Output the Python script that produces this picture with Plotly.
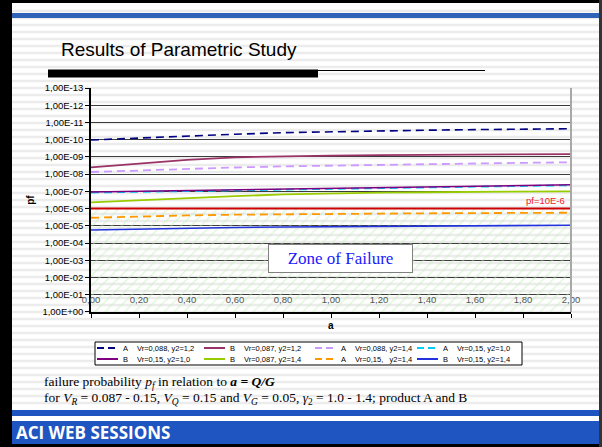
import plotly.graph_objects as go

# ---------------- data ----------------
a_values = [0.0, 0.2, 0.4, 0.6, 0.8, 1.0, 1.2, 1.4, 1.6, 1.8, 2.0]
x_tick_text = ["0,00", "0,20", "0,40", "0,60", "0,80", "1,00", "1,20", "1,40", "1,60", "1,80", "2,00"]
y_tick_vals = [1e-13, 1e-12, 1e-11, 1e-10, 1e-9, 1e-8, 1e-7, 1e-6, 1e-5, 1e-4, 1e-3, 1e-2, 1e-1, 1e0]
y_tick_text = ["1,00E-13", "1,00E-12", "1,00E-11", "1,00E-10", "1,00E-09", "1,00E-08", "1,00E-07",
               "1,00E-06", "1,00E-05", "1,00E-04", "1,00E-03", "1,00E-02", "1,00E-01", "1,00E+00"]

pf_A_088_12 = [1.04e-10, 7.8e-11, 5.9e-11, 4.8e-11, 3.9e-11, 3.4e-11, 3.05e-11, 2.8e-11, 2.6e-11, 2.4e-11, 2.3e-11]
pf_B_087_12 = [4.0e-9, 2.4e-9, 1.5e-9, 1.05e-9, 8.9e-10, 8.3e-10, 7.9e-10, 7.6e-10, 7.3e-10, 7.0e-10, 6.8e-10]
pf_A_088_14 = [7.5e-9, 6.0e-9, 4.9e-9, 4.1e-9, 3.55e-9, 3.15e-9, 2.8e-9, 2.6e-9, 2.4e-9, 2.2e-9, 2.05e-9]
pf_A_015_10 = [1.17e-7, 1.06e-7, 9.6e-8, 8.9e-8, 8.2e-8, 7.5e-8, 6.8e-8, 6.2e-8, 5.6e-8, 4.9e-8, 4.4e-8]
pf_B_015_10 = [1.09e-7, 9.9e-8, 9.0e-8, 8.3e-8, 7.7e-8, 7.0e-8, 6.4e-8, 5.8e-8, 5.2e-8, 4.6e-8, 4.1e-8]
pf_B_087_14 = [4.3e-7, 3.2e-7, 2.4e-7, 1.9e-7, 1.5e-7, 1.28e-7, 1.18e-7, 1.12e-7, 1.07e-7, 1.03e-7, 9.9e-8]
pf_A_015_14 = [3.4e-6, 2.8e-6, 2.5e-6, 2.25e-6, 2.1e-6, 2.0e-6, 1.95e-6, 1.87e-6, 1.82e-6, 1.77e-6, 1.73e-6]
pf_B_015_14 = [1.74e-5, 1.52e-5, 1.37e-5, 1.25e-5, 1.17e-5, 1.11e-5, 1.06e-5, 1.02e-5, 9.95e-6, 9.5e-6, 9.3e-6]

pf_limit = 1e-6
limit_label = "pf=10E-6"

# (product, description, values, colour, dash, width)
series = [
    ("A", "Vr=0,088, y2=1,2", pf_A_088_12, "#000080", "8px,5px", 1.6),
    ("B", "Vr=0,087, y2=1,2", pf_B_087_12, "#993366", "solid", 1.8),
    ("A", "Vr=0,088, y2=1,4", pf_A_088_14, "#cc99ff", "8px,5px", 1.8),
    ("A", "Vr=0,15, y2=1,0", pf_A_015_10, "#00ccff", "8px,5px", 1.8),
    ("B", "Vr=0,15, y2=1,0", pf_B_015_10, "#800080", "solid", 1.5),
    ("B", "Vr=0,087, y2=1,4", pf_B_087_14, "#99cc00", "solid", 1.8),
    ("A", "Vr=0,15,\u00a0\u00a0 y2=1,4", pf_A_015_14, "#ff9900", "8px,5px", 1.8),
    ("B", "Vr=0,15, y2=1,4", pf_B_015_14, "#2233dd", "solid", 1.6),
]

# ---------------- layout helpers ----------------
W, H = 602, 447
ML, MR, MT, MB = 91, 31, 88, 135
PW, PH = W - ML - MR, H - MT - MB


def px_x(px):
    return (px - ML) / PW


def px_y(py):
    return (H - MB - py) / PH


fig = go.Figure()

# zone of failure hatch (background)
fig.add_trace(go.Scatter(
    x=[a_values[0], a_values[-1], a_values[-1], a_values[0], a_values[0]],
    y=[pf_limit, pf_limit, y_tick_vals[-1], y_tick_vals[-1], pf_limit],
    mode="lines", line=dict(width=0), fill="toself",
    fillcolor="rgba(0,0,0,0)",
    fillpattern=dict(shape="/", fgcolor="#c4efb8", bgcolor="rgba(255,255,255,0)", size=7, solidity=0.22),
    hoverinfo="skip", showlegend=False))

for prod, desc, vals, color, dash, width in series:
    fig.add_trace(go.Scatter(x=a_values, y=vals, mode="lines", name=prod + " " + desc,
                             line=dict(color=color, dash=dash, width=width), showlegend=False))

fig.add_trace(go.Scatter(x=[a_values[0], a_values[-1]], y=[pf_limit, pf_limit], mode="lines",
                         line=dict(color="#cc0000", width=2), showlegend=False, hoverinfo="skip"))

shapes = []
# background stripes
for py in range(11, 410, 7):
    shapes.append(dict(type="line", xref="paper", yref="paper", x0=px_x(12), x1=px_x(600),
                       y0=px_y(py), y1=px_y(py), line=dict(color="#ececec", width=2.5), layer="below"))
# frame
shapes += [
    dict(type="rect", xref="paper", yref="paper", x0=px_x(0), x1=px_x(12), y0=px_y(447), y1=px_y(0),
         fillcolor="black", line=dict(width=0), layer="below"),
    dict(type="rect", xref="paper", yref="paper", x0=px_x(0), x1=px_x(602), y0=px_y(3), y1=px_y(0),
         fillcolor="black", line=dict(width=0), layer="below"),
    dict(type="rect", xref="paper", yref="paper", x0=px_x(0), x1=px_x(602), y0=px_y(447), y1=px_y(444),
         fillcolor="black", line=dict(width=0), layer="below"),
    dict(type="rect", xref="paper", yref="paper", x0=px_x(599), x1=px_x(602), y0=px_y(447), y1=px_y(0),
         fillcolor="#333333", line=dict(width=0), layer="below"),
    dict(type="rect", xref="paper", yref="paper", x0=px_x(12), x1=px_x(599), y0=px_y(18), y1=px_y(13),
         fillcolor="#2f63b8", line=dict(width=0), layer="below"),
    dict(type="rect", xref="paper", yref="paper", x0=px_x(12), x1=px_x(599), y0=px_y(416), y1=px_y(410),
         fillcolor="#1f55c0", line=dict(width=0), layer="below"),
    dict(type="rect", xref="paper", yref="paper", x0=px_x(12), x1=px_x(599), y0=px_y(444), y1=px_y(421),
         fillcolor="#1f55c0", line=dict(width=0), layer="below"),
    dict(type="rect", xref="paper", yref="paper", x0=px_x(48), x1=px_x(318), y0=px_y(77.5), y1=px_y(69.5),
         fillcolor="black", line=dict(width=0), layer="above"),
    dict(type="line", xref="paper", yref="paper", x0=px_x(318), x1=px_x(485), y0=px_y(70.5), y1=px_y(70.5),
         line=dict(color="black", width=1), layer="above"),
    dict(type="line", xref="paper", yref="paper", x0=1, x1=1, y0=0, y1=1,
         line=dict(color="#a8a8a8", width=2), layer="above"),
]

annotations = [
    dict(text="Results of Parametric Study", xref="paper", yref="paper", x=px_x(59), y=px_y(49),
         xanchor="left", yanchor="middle", showarrow=False,
         font=dict(family="Liberation Sans, Arial", size=19, color="black")),
    dict(text=limit_label, xref="x", yref="y", x=a_values[-1], y=-6, xanchor="right", yanchor="bottom",
         yshift=1, xshift=-4, showarrow=False,
         font=dict(family="Liberation Sans, Arial", size=9.5, color="#ee2222")),
    dict(text="Zone of Failure", xref="x", yref="y", x=1.04, y=-3.1, showarrow=False,
         font=dict(family="Liberation Serif, Times New Roman", size=17, color="#1a1aff"),
         bgcolor="white", bordercolor="#808080", borderwidth=1, width=139, height=23, borderpad=2),
    dict(text="<b>a</b>", xref="x", yref="paper", x=1.0, y=px_y(325), showarrow=False,
         xanchor="center", yanchor="middle", font=dict(family="Liberation Sans, Arial", size=10, color="black")),
    dict(text="failure probability <i>p</i><sub><i>f</i></sub> in relation to <b><i>a = Q/G</i></b>",
         xref="paper", yref="paper", x=px_x(42), y=px_y(382), xanchor="left", yanchor="middle",
         showarrow=False, font=dict(family="Liberation Serif, Times New Roman", size=13.5, color="black")),
    dict(text="for <i>V</i><sub><i>R</i></sub> = 0.087 - 0.15, <i>V</i><sub><i>Q</i></sub> = 0.15 and "
              "<i>V</i><sub><i>G</i></sub> = 0.05, <i>γ</i><sub>2</sub> = 1.0 - 1.4; product A and B",
         xref="paper", yref="paper", x=px_x(42), y=px_y(398), xanchor="left", yanchor="middle",
         showarrow=False, font=dict(family="Liberation Serif, Times New Roman", size=13.5, color="black")),
    dict(text="<b>ACI WEB SESSIONS</b>", xref="paper", yref="paper", x=px_x(14), y=px_y(432),
         xanchor="left", yanchor="middle", showarrow=False,
         font=dict(family="Open Sans, Liberation Sans", size=17, color="white")),
]

# manual compact legend (Excel style, 4 columns x 2 rows)
leg_box = (95, 342, 522, 365)
leg_cols = [97, 204, 315, 417]
leg_rows = [348, 359]
sym_len = 21
shapes.append(dict(type="rect", xref="paper", yref="paper", x0=px_x(leg_box[0]), x1=px_x(leg_box[2]),
                   y0=px_y(leg_box[3]), y1=px_y(leg_box[1]), fillcolor="white",
                   line=dict(color="black", width=1), layer="above"))
for i, (prod, desc, vals, color, dash, width) in enumerate(series):
    cx = leg_cols[i % 4]
    cy = leg_rows[i // 4]
    shapes.append(dict(type="line", xref="paper", yref="paper", x0=px_x(cx), x1=px_x(cx + sym_len),
                       y0=px_y(cy), y1=px_y(cy), layer="above",
                       line=dict(color=color, width=2, dash="7px,4px" if dash != "solid" else "solid")))
    annotations.append(dict(text=prod, xref="paper", yref="paper", x=px_x(cx + sym_len + 3), y=px_y(cy),
                            xanchor="left", yanchor="middle", showarrow=False,
                            font=dict(family="Liberation Sans, Arial", size=7.5, color="black")))
    annotations.append(dict(text=desc, xref="paper", yref="paper", x=px_x(cx + sym_len + 17), y=px_y(cy),
                            xanchor="left", yanchor="middle", showarrow=False,
                            font=dict(family="Liberation Sans, Arial", size=7.5, color="black")))

fig.update_layout(
    width=W, height=H,
    margin=dict(l=ML, r=MR, t=MT, b=MB, pad=0, autoexpand=False),
    paper_bgcolor="white", plot_bgcolor="white",
    shapes=shapes, annotations=annotations, showlegend=False,
    font=dict(family="Liberation Sans, Arial", color="black"),
    xaxis=dict(range=[0, 2], tickvals=a_values, ticktext=x_tick_text, ticklabelposition="outside",
               ticklabelstandoff=-26,
               tickfont=dict(size=9.5, color="#555555"), ticks="outside", ticklen=4, tickcolor="black",
               showline=True, linecolor="black", linewidth=1.5, showgrid=False, zeroline=False),
    yaxis=dict(type="log", range=[0.002, -13.002], tickvals=y_tick_vals, ticktext=y_tick_text,
               tickfont=dict(size=9.5, color="black"), ticks="outside", ticklen=4, tickcolor="black",
               showline=True, linecolor="black", linewidth=1.5, showgrid=True, gridcolor="#3c3c3c",
               gridwidth=1, zeroline=False,
               title=dict(text="<b>pf</b>", font=dict(size=10), standoff=6)),
)

fig.write_html("out.html", config={"displayModeBar": False},
               post_script="document.body.style.margin='0';document.body.style.overflow='hidden';")
